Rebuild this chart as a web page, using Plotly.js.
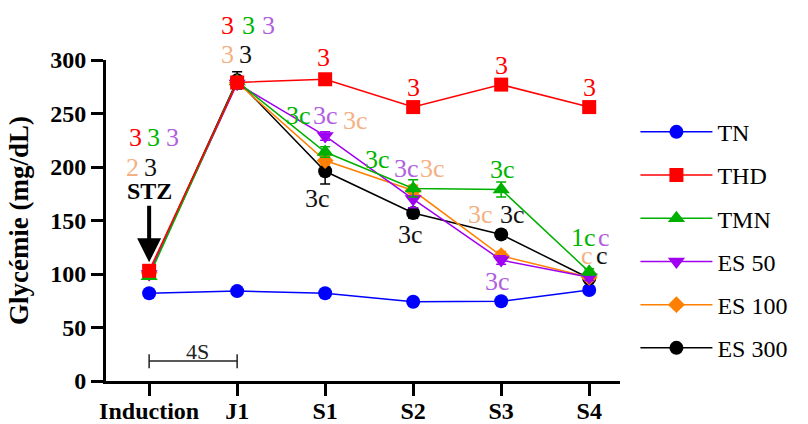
<!DOCTYPE html>
<html>
<head>
<meta charset="utf-8">
<script src="https://cdn.plot.ly/plotly-3.0.1.min.js"></script>
<style>
  html, body { margin: 0; padding: 0; background: #fff; }
  #chart { width: 808px; height: 424px; }
</style>
</head>
<body>
<div id="chart"></div>
<script>
// ---------- data ----------
const categories = ['Induction', 'J1', 'S1', 'S2', 'S3', 'S4'];

const seriesNames = ['TN', 'THD', 'TMN', 'ES 50', 'ES 100', 'ES 300'];
const TN     = [82, 84, 82, 74, 74.5, 85];
const THD    = [103, 279, 282, 256, 277, 256];
const TMN    = [98, 280, 214, 180, 179, 102];
const ES50   = [100, 278, 229, 170, 113, 97];
const ES100  = [101, 279, 206, 178, 117, 97];
const ES300  = [101, 281, 196, 157, 137, 96];

const TN_err    = [2, 2, 2, 2, 2, 2];
const THD_err   = [3, 3, 3, 3, 3, 3];
const TMN_err   = [3, 4, 5, 8, 7, 3];
const ES50_err  = [3, 4, 4, 8, 4, 3];
const ES100_err = [3, 4, 4, 5, 4, 3];
const ES300_err = [3, 8, 12, 5, 4, 3];

const yTicks = [0, 50, 100, 150, 200, 250, 300];

// significance labels (text only)
const sigLabels = [
  '3','3','3','2','3',            // Induction
  '3','3','3','3','3',            // J1
  '3','3c','3c','3c','3c',        // S1
  '3','3c','3c','3c','3c',        // S2
  '3','3c','3c','3c','3c',        // S3
  '3','1c','c','c','c'            // S4
];
const stzLabel = 'STZ';
const periodLabel = '4S';

// ---------- styling / placement ----------
const colors = {
  'TN': '#0000ff', 'THD': '#ff0000', 'TMN': '#00b000',
  'ES 50': '#a000f0', 'ES 100': '#ff8000', 'ES 300': '#000000'
};
const textColors = {
  red: '#ff0000', green: '#00b400', purple: '#b060e0', orange: '#f4b183', black: '#111111'
};
const symbols = {
  'TN': 'circle', 'THD': 'square', 'TMN': 'triangle-up',
  'ES 50': 'triangle-down', 'ES 100': 'diamond', 'ES 300': 'circle'
};
const msize = { 'TN': 14, 'THD': 14, 'TMN': 15, 'ES 50': 15, 'ES 100': 13, 'ES 300': 14 };

// label placements (x in category units, y in glycaemia units) and colours, same order as sigLabels
const sigPlace = [
  [-0.16, 228, 'red'], [0.05, 228, 'green'], [0.27, 228, 'purple'], [-0.19, 200, 'orange'], [0.02, 200, 'black'],
  [0.89, 332, 'red'], [1.13, 332, 'green'], [1.36, 332, 'purple'], [0.89, 305, 'orange'], [1.09, 305, 'black'],
  [1.98, 302, 'red'], [1.70, 248, 'green'], [2.00, 248, 'purple'], [2.35, 243, 'orange'], [1.91, 171, 'black'],
  [3.00, 274, 'red'], [2.60, 207, 'green'], [2.92, 199, 'purple'], [3.22, 199, 'orange'], [2.97, 137, 'black'],
  [4.00, 295, 'red'], [4.02, 198, 'green'], [3.77, 156, 'orange'], [4.13, 156, 'black'], [3.96, 93, 'purple'],
  [5.00, 274, 'red'], [4.93, 134, 'green'], [5.17, 134, 'purple'], [4.97, 117, 'orange'], [5.15, 117, 'black']
];

const yMax = 300;
const X = categories.map((_, i) => i);
const dataMap = { 'TN': [TN, TN_err], 'THD': [THD, THD_err], 'TMN': [TMN, TMN_err],
  'ES 50': [ES50, ES50_err], 'ES 100': [ES100, ES100_err], 'ES 300': [ES300, ES300_err] };

const drawOrder = ['TN', 'ES 300', 'ES 100', 'ES 50', 'TMN', 'THD'];
const traces = drawOrder.map(name => ({
  type: 'scatter',
  mode: 'lines+markers',
  name: name,
  x: X,
  y: dataMap[name][0],
  error_y: { type: 'data', array: dataMap[name][1], visible: true, color: colors[name], thickness: 1.5, width: 5 },
  line: { color: colors[name], width: 1.5 },
  marker: { color: colors[name], symbol: symbols[name], size: msize[name] },
  legendrank: seriesNames.indexOf(name) + 1,
  legendgroup: name,
  cliponaxis: false
}));

const serif = '"Liberation Serif", "Times New Roman", serif';

const annotations = sigLabels.map((t, i) => ({
  x: sigPlace[i][0], y: sigPlace[i][1] / yMax, xref: 'x', yref: 'paper',
  xanchor: 'center', yanchor: 'middle',
  text: t, showarrow: false,
  font: { family: serif, size: 26, color: textColors[sigPlace[i][2]] }
}));

annotations.push({
  x: 0, y: 111, xref: 'x', yref: 'y', text: stzLabel,
  showarrow: true, ax: 0, ay: -71, arrowhead: 2, arrowsize: 1.2, arrowwidth: 4, arrowcolor: '#000',
  font: { family: serif, size: 24, color: '#000', weight: 'bold' }
});
annotations.push({
  x: 0.55, y: 28 / yMax, xref: 'x', yref: 'paper', xanchor: 'center', yanchor: 'middle',
  text: periodLabel, showarrow: false,
  font: { family: serif, size: 22, color: '#222' }
});

const bracketY = 18.7;
const shapes = [
  { type: 'line', xref: 'x', yref: 'y', x0: 0, x1: 1, y0: bracketY, y1: bracketY, line: { color: '#222', width: 1.5 } },
  { type: 'line', xref: 'x', yref: 'y', x0: 0, x1: 0, y0: 12, y1: 25, line: { color: '#222', width: 1.5 } },
  { type: 'line', xref: 'x', yref: 'y', x0: 1, x1: 1, y0: 12, y1: 25, line: { color: '#222', width: 1.5 } }
];

const layout = {
  width: 808, height: 424,
  margin: { l: 106, r: 188, t: 60, b: 43 },
  paper_bgcolor: '#fff', plot_bgcolor: '#fff',
  showlegend: true,
  legend: {
    x: 1.03, xanchor: 'left', y: 0.845, yanchor: 'top',
    font: { family: serif, size: 24, color: '#000' },
    itemwidth: 72, tracegroupgap: 9,
    bgcolor: 'rgba(0,0,0,0)'
  },
  xaxis: {
    range: [-0.49, 5.35],
    tickmode: 'array', tickvals: X, ticktext: categories,
    ticks: 'outside', ticklen: 12, tickwidth: 3, tickcolor: '#000',
    ticklabelstandoff: -6,
    showline: true, linewidth: 3, linecolor: '#000',
    showgrid: false, zeroline: false,
    tickfont: { family: serif, size: 24, color: '#000', weight: 'bold' }
  },
  yaxis: {
    range: [0, yMax],
    tickmode: 'array', tickvals: yTicks,
    ticks: 'outside', ticklen: 12, tickwidth: 3, tickcolor: '#000',
    showline: true, linewidth: 3, linecolor: '#000',
    showgrid: false, zeroline: false,
    tickfont: { family: serif, size: 24, color: '#000', weight: 'bold' },
    title: { text: 'Glycémie (mg/dL)', standoff: 14, font: { family: serif, size: 27, color: '#000', weight: 'bold' } }
  },
  annotations: annotations,
  shapes: shapes
};

Plotly.newPlot('chart', traces, layout, { displayModeBar: false, staticPlot: true });
</script>
</body>
</html>
